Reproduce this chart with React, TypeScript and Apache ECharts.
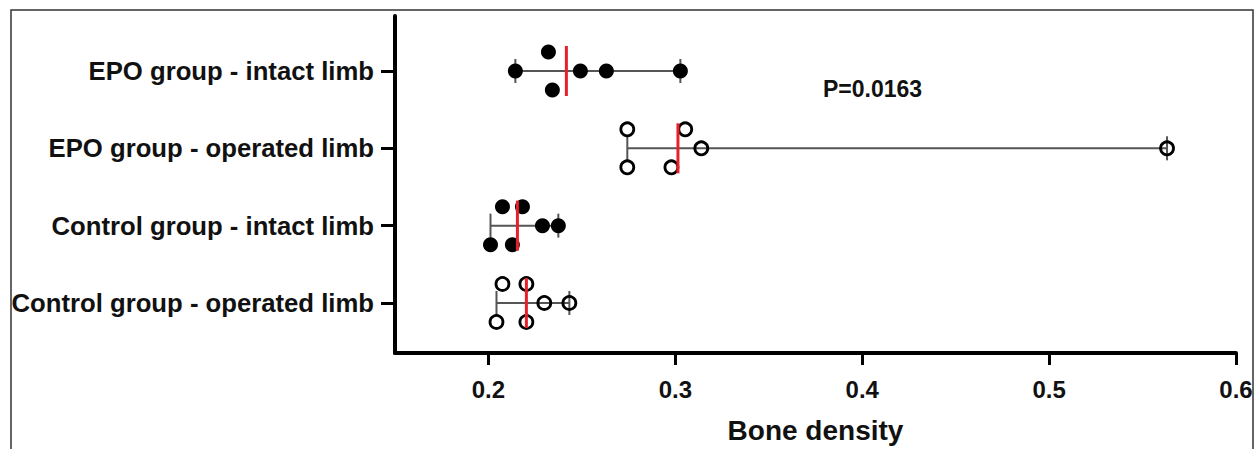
import React, { useEffect, useRef } from "react";
import * as echarts from "echarts";

// Categories, bottom to top (y = 1..4)
const categories = [
  "Control group - operated limb",
  "Control group - intact limb",
  "EPO group - operated limb",
  "EPO group - intact limb",
];
const categoryPos = [1, 2, 3, 4];

// Bone density values per group
const controlOperated = [0.2043, 0.2075, 0.2203, 0.2203, 0.2299, 0.2433];
const controlIntact = [0.2011, 0.2075, 0.2128, 0.2182, 0.2289, 0.2374];
const epoOperated = [0.2743, 0.2743, 0.2979, 0.3053, 0.3139, 0.5631];
const epoIntact = [0.2144, 0.2321, 0.2342, 0.2492, 0.2631, 0.3027];

// Vertical jitter rows (-1 above, 0 on line, 1 below)
const controlOperatedRows = [1, -1, -1, 1, 0, 0];
const controlIntactRows = [1, -1, 1, -1, 0, 0];
const epoOperatedRows = [-1, 1, 1, -1, 0, 0];
const epoIntactRows = [0, -1, 1, 0, 0, 0];

// Medians (red lines)
const medians = [0.2203, 0.2155, 0.3014, 0.2417];

const xTicks = [0.2, 0.3, 0.4, 0.5, 0.6];
const pText = "P=0.0163";

const groupValues = [controlOperated, controlIntact, epoOperated, epoIntact];
const groupRows = [controlOperatedRows, controlIntactRows, epoOperatedRows, epoIntactRows];
const filledGroup = [false, true, false, true];

const JITTER = 19;
const FONT = "'Liberation Sans', Arial, sans-serif";

export default function App() {
  const ref = useRef<HTMLDivElement>(null);
  useEffect(() => {
    if (!ref.current) return;
    const chart = echarts.init(ref.current, undefined, { renderer: "svg", width: 1256, height: 449 });

    const whiskerData = groupValues.map((vals, i) => [
      Math.min(...vals),
      Math.max(...vals),
      categoryPos[i],
    ]);
    const medianData = medians.map((m, i) => [m, categoryPos[i]]);

    const makeDots = (filled: boolean) =>
      groupValues.flatMap((vals, i) =>
        filledGroup[i] === filled
          ? vals.map((v, k) => ({
              value: [v, categoryPos[i]],
              symbolOffset: [0, groupRows[i][k] * JITTER],
            }))
          : []
      );

    const option: any = {
      animation: false,
      grid: { left: 395, right: 20, top: 16, bottom: 85, containLabel: false },
      xAxis: {
        type: "value",
        min: 0.15,
        max: 0.6,
        name: "Bone density",
        nameLocation: "middle",
        nameGap: 63,
        nameTextStyle: { fontFamily: FONT, fontWeight: "bold", fontSize: 28, color: "#111" },
        axisLine: { show: true, lineStyle: { color: "#000", width: 4 } },
        axisTick: { show: true, length: 12, lineStyle: { color: "#000", width: 3 }, customValues: xTicks },
        axisLabel: {
          customValues: xTicks,
          margin: 24,
          fontFamily: FONT,
          fontWeight: "bold",
          fontSize: 24,
          color: "#111",
          formatter: (v: number) => String(Math.round(v * 10) / 10),
        },
        splitLine: { show: false },
      },
      yAxis: {
        type: "value",
        min: 0.353,
        max: 4.711,
        axisLine: { show: true, lineStyle: { color: "#000", width: 4 } },
        axisTick: { show: true, length: 14, lineStyle: { color: "#000", width: 3 }, customValues: categoryPos },
        axisLabel: {
          customValues: categoryPos,
          margin: 21,
          fontFamily: FONT,
          fontWeight: "bold",
          fontSize: 25.7,
          color: "#111",
          formatter: (v: number) => categories[Math.round(v) - 1] ?? "",
        },
        splitLine: { show: false },
      },
      graphic: [
        {
          type: "rect",
          shape: { x: 11, y: 10, width: 1242, height: 460 },
          style: { fill: "none", stroke: "#333", lineWidth: 1.5 },
          silent: true,
          z: -10,
        },
        {
          type: "text",
          left: 823,
          top: 77,
          style: { text: pText, fontFamily: FONT, fontWeight: "bold", fontSize: 23, fill: "#111" },
        },
      ],
      series: [
        {
          type: "custom",
          z: 1,
          data: whiskerData,
          encode: { x: [0, 1], y: 2 },
          renderItem: (_params: any, api: any) => {
            const y = api.value(2);
            const p1 = api.coord([api.value(0), y]);
            const p2 = api.coord([api.value(1), y]);
            const st = { stroke: "#555", lineWidth: 2 };
            return {
              type: "group",
              children: [
                { type: "line", shape: { x1: p1[0], y1: p1[1], x2: p2[0], y2: p2[1] }, style: st },
                { type: "line", shape: { x1: p1[0], y1: p1[1] - 12, x2: p1[0], y2: p1[1] + 12 }, style: st },
                { type: "line", shape: { x1: p2[0], y1: p2[1] - 12, x2: p2[0], y2: p2[1] + 12 }, style: st },
              ],
            };
          },
        },
        {
          type: "scatter",
          z: 2,
          symbol: "circle",
          symbolSize: 15,
          itemStyle: { color: "#000", opacity: 1 },
          data: makeDots(true),
        },
        {
          type: "scatter",
          z: 2,
          symbol: "circle",
          symbolSize: 13,
          itemStyle: { color: "rgba(0,0,0,0)", borderColor: "#000", borderWidth: 2.8, opacity: 1 },
          data: makeDots(false),
        },
        {
          type: "custom",
          z: 3,
          data: medianData,
          encode: { x: 0, y: 1 },
          renderItem: (_params: any, api: any) => {
            const p = api.coord([api.value(0), api.value(1)]);
            return {
              type: "line",
              shape: { x1: p[0], y1: p[1] - 25, x2: p[0], y2: p[1] + 25 },
              style: { stroke: "#e8202a", lineWidth: 3 },
            };
          },
        },
      ],
    };
    chart.setOption(option);
    return () => chart.dispose();
  }, []);

  return (
    <div
      ref={ref}
      style={{ position: "fixed", left: 0, top: 0, width: 1256, height: 449, background: "#fff" }}
    />
  );
}
